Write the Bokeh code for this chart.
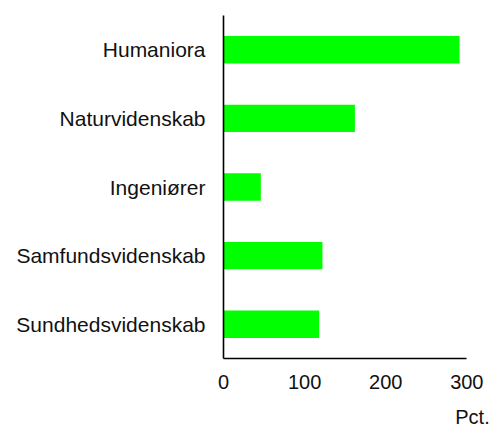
from bokeh.plotting import figure
from bokeh.models import Range1d, FactorRange, FixedTicker, Title
from bokeh.embed import file_html
from bokeh.resources import INLINE

categories = ["Humaniora", "Naturvidenskab", "Ingeniører", "Samfundsvidenskab", "Sundhedsvidenskab"]
values = [291, 162, 46, 122, 118]
x_ticks = [0, 100, 200, 300]
x_unit_label = "Pct."

FONT = "Liberation Sans"
X_AXIS_MAX = 300
X_RANGE_END = 307  # a little room to the right so the unit label can sit past the axis end

factors = list(reversed(categories))
p = figure(
    width=492, height=430,
    y_range=FactorRange(factors=factors, range_padding=0),
    x_range=Range1d(0, X_RANGE_END),
    output_backend="svg", toolbar_location=None,
    min_border_left=223, min_border_right=20, min_border_top=15, min_border_bottom=72,
)
p.outline_line_color = None
p.xgrid.visible = False
p.ygrid.visible = False
p.background_fill_color = "white"
p.border_fill_color = "white"

p.hbar(y=categories, right=values, left=0, height=0.4, color="#00ff00", line_color=None)

for ax in (p.xaxis[0], p.yaxis[0]):
    ax.axis_line_color = "black"
    ax.axis_line_width = 1.6
    ax.major_tick_line_color = None
    ax.minor_tick_line_color = None
    ax.major_tick_in = 0
    ax.major_tick_out = 0
    ax.major_label_text_font = FONT
    ax.major_label_text_color = "#111111"

xax = p.xaxis[0]
xax.bounds = (0, X_AXIS_MAX)
xax.ticker = FixedTicker(ticks=x_ticks)
xax.major_label_text_font_size = "20px"
xax.major_label_standoff = 16
p.yaxis.major_label_text_font_size = "21px"
p.yaxis.major_label_standoff = 18

if "axis_label_align" in xax.properties():
    xax.axis_label = x_unit_label
    xax.axis_label_align = "end"
    xax.axis_label_standoff = 14
    xax.axis_label_text_font = FONT
    xax.axis_label_text_font_size = "20px"
    xax.axis_label_text_font_style = "normal"
    xax.axis_label_text_color = "#111111"
else:
    p.add_layout(Title(text=x_unit_label, align="right", offset=-17, standoff=15,
                       text_font=FONT, text_font_size="20px", text_font_style="normal",
                       text_color="#111111"), "below")

open("out.html", "w").write(file_html(p, INLINE))
